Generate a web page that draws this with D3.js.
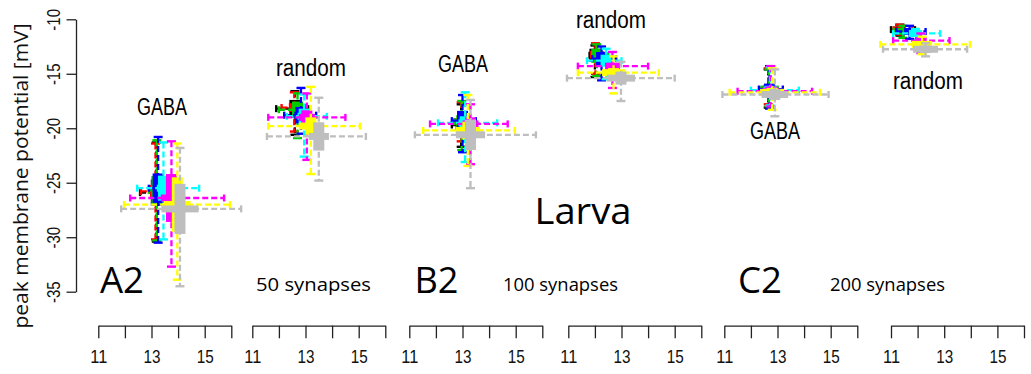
<!DOCTYPE html>
<html>
<head>
<meta charset="utf-8">
<script src="https://cdn.jsdelivr.net/npm/d3@7/dist/d3.min.js"></script>
<style>
  html, body { margin: 0; padding: 0; background: #fff; }
  svg { display: block; }
</style>
</head>
<body>
<svg id="chart" width="1031" height="374"></svg>
<script>
// Peak membrane potential for six model conditions; each panel holds eight
// colour series drawn as thick spread bars plus dashed range whiskers.
const conditionLabels = ["GABA", "random", "GABA", "random", "GABA", "random"];
const panelTags = ["A2", "B2", "C2"];
const synapseLabels = ["50 synapses", "100 synapses", "200 synapses"];
const stageLabel = "Larva";
const yTitle = "peak membrane potential [mV]";
const yTicks = [-10, -15, -20, -25, -30, -35];
const xTicks = [11, 12, 13, 14, 15, 16];
const xTickLabels = ["11", "", "13", "", "15", ""];
const seriesNames = ["black", "red", "green3", "blue", "cyan", "magenta", "yellow", "gray"];

// one row per panel, one entry per series (order as seriesNames)
const meanX = [
  [13.18, 13.15, 13.2, 13.25, 13.45, 13.75, 13.97, 14.07],
  [12.6, 12.58, 12.7, 12.83, 12.95, 13.05, 13.2, 13.5],
  [12.95, 12.95, 12.97, 13.0, 13.1, 13.3, 13.2, 13.3],
  [12.0, 12.02, 12.07, 12.25, 12.42, 12.66, 12.7, 12.98],
  [12.65, 12.65, 12.68, 12.7, 12.72, 12.75, 12.8, 12.9],
  [11.34, 11.32, 11.45, 11.7, 11.92, 12.12, 12.17, 12.3]
];
const meanY = [
  [-25.9, -25.8, -25.7, -25.5, -25.5, -26.4, -27.0, -27.4],
  [-18.2, -18.1, -18.3, -18.8, -18.9, -19.0, -19.8, -20.75],
  [-19.7, -19.4, -19.4, -19.3, -19.5, -19.6, -20.2, -20.6],
  [-13.3, -13.25, -13.35, -13.6, -13.8, -14.3, -14.9, -15.4],
  [-16.5, -16.4, -16.4, -16.4, -16.5, -16.6, -16.7, -16.9],
  [-10.95, -10.95, -11.1, -11.12, -11.3, -11.95, -12.3, -12.75]
];
// half spread of the thick bars
const spreadX = [
  [0.15, 0.1, 0.15, 0.2, 0.25, 0.4, 0.5, 0.7],
  [0.2, 0.1, 0.2, 0.25, 0.25, 0.3, 0.45, 0.38],
  [0.15, 0.1, 0.15, 0.2, 0.25, 0.3, 0.45, 0.55],
  [0.12, 0.1, 0.12, 0.13, 0.15, 0.28, 0.43, 0.53],
  [0.12, 0.1, 0.12, 0.15, 0.25, 0.3, 0.45, 0.5],
  [0.12, 0.1, 0.12, 0.13, 0.25, 0.22, 0.38, 0.47]
];
const spreadY = [
  [1.2, 0.6, 1.3, 1.35, 1.15, 2.2, 2.5, 2.3],
  [0.8, 0.4, 0.75, 0.75, 0.7, 0.65, 0.8, 1.3],
  [0.5, 0.3, 0.6, 0.9, 0.6, 0.6, 0.8, 1.4],
  [0.6, 0.35, 0.65, 0.6, 0.55, 0.3, 0.42, 0.6],
  [0.4, 0.25, 0.4, 0.5, 0.4, 0.45, 0.4, 0.5],
  [0.3, 0.2, 0.3, 0.32, 0.32, 0.25, 0.25, 0.35]
];
// full range (dashed whiskers)
const minX = [
  [12.57, 12.6, 12.9, 12.9, 12.46, 12.2, 11.97, 11.86],
  [11.9, 12.1, 12.0, 12.2, 12.3, 11.6, 11.6, 11.55],
  [12.6, 12.7, 12.7, 12.6, 12.08, 11.78, 11.52, 11.21],
  [11.8, 11.9, 11.9, 11.9, 11.7, 11.36, 11.36, 10.95],
  [12.4, 12.5, 12.4, 12.3, 12.0, 11.5, 11.2, 10.93],
  [11.0, 11.1, 11.1, 11.2, 11.08, 11.08, 10.6, 10.7]
];
const maxX = [
  [13.9, 13.5, 13.7, 13.9, 14.79, 15.73, 15.95, 16.37],
  [13.1, 13.0, 13.2, 13.4, 13.8, 14.5, 15.05, 15.27],
  [13.3, 13.2, 13.3, 13.5, 14.3, 14.7, 14.97, 15.76],
  [12.4, 12.3, 12.5, 12.8, 13.0, 14.0, 14.4, 15.0],
  [13.0, 12.9, 13.0, 13.2, 13.8, 14.3, 14.6, 14.92],
  [11.9, 11.8, 12.0, 12.3, 12.85, 13.2, 13.97, 13.86]
];
const maxY = [
  [-21.3, -21.4, -21.1, -20.8, -21.3, -21.2, -21.4, -21.8],
  [-16.6, -16.7, -16.8, -16.3, -16.9, -16.8, -16.2, -17.2],
  [-17.8, -17.6, -17.5, -16.95, -16.7, -17.8, -16.95, -17.4],
  [-12.4, -12.2, -12.3, -12.5, -12.7, -13.0, -13.4, -13.9],
  [-14.6, -14.5, -14.6, -14.3, -14.4, -14.3, -14.5, -14.6],
  [-10.5, -10.5, -10.6, -10.6, -10.9, -11.3, -11.6, -12.2]
];
const minY = [
  [-30.4, -30.2, -30.3, -30.5, -30.2, -32.7, -33.9, -34.5],
  [-20.6, -20.3, -20.9, -20.5, -22.6, -22.9, -24.2, -24.8],
  [-21.7, -21.2, -22.0, -22.2, -23.1, -23.3, -23.45, -25.5],
  [-15.3, -15.0, -15.2, -15.6, -15.5, -16.3, -16.8, -17.5],
  [-18.1, -17.8, -18.0, -18.2, -17.9, -18.0, -18.3, -18.9],
  [-11.5, -11.4, -11.7, -11.8, -12.3, -13.1, -13.2, -13.4]
];

const seriesColors = ["#000000", "#ff0000", "#00cd00", "#0000ff", "#00ffff", "#ff00ff", "#ffff00", "#bebebe"];

const svg = d3.select("#chart");
const narrow = "'Liberation Sans Narrow', 'Liberation Sans', Arial, sans-serif";
const humanist = "'Open Sans', 'Noto Sans', sans-serif";

const y = d3.scaleLinear().domain([-35, -10]).range([291.7, 19.3]);
const panelLeft = [98.3, 252.3, 409.3, 568.3, 724.3, 891];
const panelWidth = 133;
const xAxisY = 325.7;

const vBar = 11, hBar = 7, capV = 4.5, capH = 3.5;

function text(g, str, x, yBase, size, len, family) {
  return g.append("text")
    .attr("x", x).attr("y", yBase)
    .attr("text-anchor", "middle")
    .attr("font-family", family)
    .attr("font-size", size)
    .attr("textLength", len)
    .attr("lengthAdjust", "spacingAndGlyphs")
    .attr("fill", "#000")
    .text(str);
}

panelLeft.forEach((left, p) => {
  const x = d3.scaleLinear().domain([11, 16]).range([left, left + panelWidth]);
  const g = svg.append("g").attr("class", "panel");

  seriesNames.forEach((name, i) => {
    const col = seriesColors[i];
    const cx = x(meanX[p][i]), cy = y(meanY[p][i]);
    const s = g.append("g").attr("class", "series " + name);

    // dashed whiskers spanning the full range
    const dash = (x1, y1, x2, y2) => s.append("line")
      .attr("x1", x1).attr("y1", y1).attr("x2", x2).attr("y2", y2)
      .attr("stroke", col).attr("stroke-width", 2.3)
      .attr("stroke-dasharray", "6,3");
    const solid = (x1, y1, x2, y2) => s.append("line")
      .attr("x1", x1).attr("y1", y1).attr("x2", x2).attr("y2", y2)
      .attr("stroke", col).attr("stroke-width", 2.4);

    const x0 = x(minX[p][i]), x1 = x(maxX[p][i]);
    const y0 = y(maxY[p][i]), y1 = y(minY[p][i]);
    dash(x0, cy, x1, cy);
    dash(cx, y0, cx, y1);
    solid(x0, cy - capH, x0, cy + capH);
    solid(x1, cy - capH, x1, cy + capH);
    solid(cx - capV, y0, cx + capV, y0);
    solid(cx - capV, y1, cx + capV, y1);

    // thick spread bars
    const ya = y(meanY[p][i] + spreadY[p][i]), yb = y(meanY[p][i] - spreadY[p][i]);
    s.append("rect")
      .attr("x", cx - vBar / 2).attr("width", vBar)
      .attr("y", ya).attr("height", yb - ya)
      .attr("fill", col);
    const xa = x(meanX[p][i] - spreadX[p][i]), xb = x(meanX[p][i] + spreadX[p][i]);
    s.append("rect")
      .attr("x", xa).attr("width", xb - xa)
      .attr("y", cy - hBar / 2).attr("height", hBar)
      .attr("fill", col);
  });

  // x axis of the panel
  const ax = svg.append("g")
    .attr("transform", `translate(0,${xAxisY})`)
    .call(d3.axisBottom(x).tickValues(xTicks)
      .tickFormat(d => xTickLabels[xTicks.indexOf(d)])
      .tickSize(12.6).tickSizeOuter(0));
  ax.select(".domain").attr("stroke", "#222").attr("stroke-width", 1.3);
  ax.selectAll(".tick line").attr("stroke", "#222").attr("stroke-width", 1.3);
  ax.selectAll(".tick text")
    .attr("y", 37.5).attr("dy", null)
    .attr("font-family", narrow).attr("font-size", 19)
    .attr("fill", "#111")
    .each(function () {
      if (this.textContent) d3.select(this).attr("textLength", 17).attr("lengthAdjust", "spacingAndGlyphs");
    });
});

// y axis
const yAx = svg.append("g")
  .attr("transform", "translate(76,0)")
  .call(d3.axisLeft(y).tickValues(yTicks).tickFormat(d => String(d)).tickSize(9.5).tickSizeOuter(0));
yAx.select(".domain").attr("stroke", "#222").attr("stroke-width", 1.3);
yAx.selectAll(".tick line").attr("stroke", "#222").attr("stroke-width", 1.3);
yAx.selectAll(".tick text")
  .attr("x", 0).attr("dy", null).attr("y", 0)
  .attr("text-anchor", "middle")
  .attr("transform", "translate(-16,0) rotate(-90)")
  .attr("font-family", narrow).attr("font-size", 18.6)
  .attr("fill", "#111")
  .attr("textLength", 21.7).attr("lengthAdjust", "spacingAndGlyphs");

// y axis title
svg.append("text")
  .attr("transform", "translate(27.5,176) rotate(-90)")
  .attr("text-anchor", "middle")
  .attr("font-family", humanist).attr("font-size", 19.5)
  .attr("textLength", 305).attr("lengthAdjust", "spacingAndGlyphs")
  .attr("fill", "#111")
  .text(yTitle);

// condition labels above / below each cloud
const ann = svg.append("g");
const condPos = [[162, 115], [311, 76], [463, 72], [611, 28], [775, 139], [928, 89]];
conditionLabels.forEach((c, i) => {
  const w = c === "GABA" ? 50 : 70;
  text(ann, c, condPos[i][0], condPos[i][1], 23.5, w, narrow);
});

// panel tags and synapse counts
const tagPos = [[122, 293], [436.5, 293], [760, 293]];
panelTags.forEach((t, i) => text(ann, t, tagPos[i][0], tagPos[i][1], 36, 44, humanist));
const synPos = [[313.5, 291], [560.5, 291], [887.5, 291]];
synapseLabels.forEach((t, i) => text(ann, t, synPos[i][0], synPos[i][1], 19, 115, humanist));

text(ann, stageLabel, 583, 224, 37, 97, humanist);
</script>
</body>
</html>
